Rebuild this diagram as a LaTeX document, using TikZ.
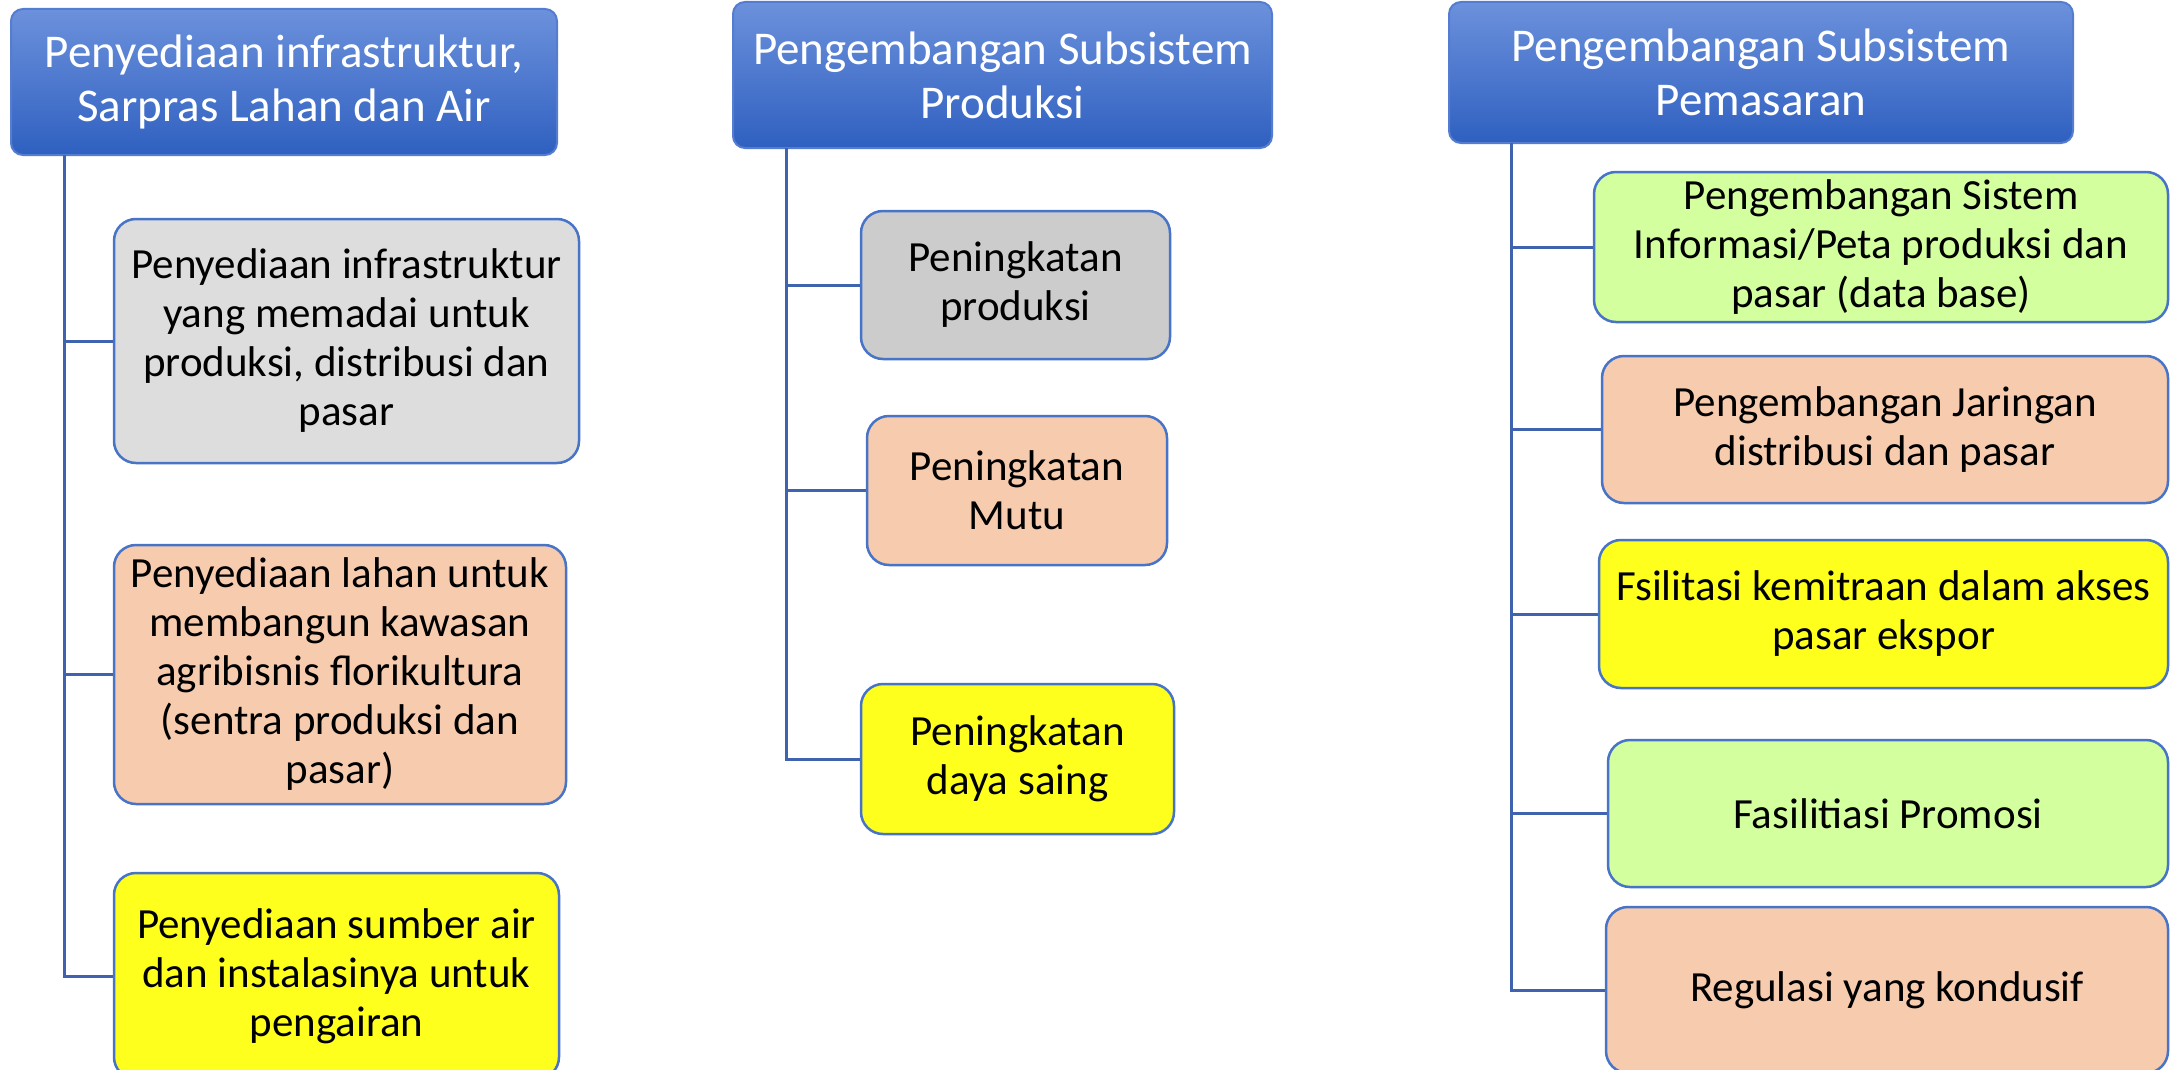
\documentclass[tikz,border=0pt]{standalone}
\usepackage{fontspec}
\setmainfont{Carlito}
\usetikzlibrary{calc}
\definecolor{hdtop}{RGB}{108,145,220}
\definecolor{hdbot}{RGB}{47,96,192}
\definecolor{hdline}{RGB}{84,124,208}
\definecolor{bxline}{RGB}{72,116,200}
\definecolor{conn}{RGB}{63,99,174}
\definecolor{cgray}{RGB}{221,221,221}
\definecolor{cgraytwo}{RGB}{204,204,204}
\definecolor{cpeach}{RGB}{247,203,174}
\definecolor{cyellow}{RGB}{255,255,30}
\definecolor{cgreen}{RGB}{211,255,158}
\begin{document}
\begin{tikzpicture}[x=1pt,y=-1pt,
  hdr/.style={draw=hdline, line width=2pt, rounded corners=12pt,
    top color=hdtop, bottom color=hdbot, text=white, align=center,
    font=\fontsize{47}{54}\selectfont, inner sep=0pt},
  sub/.style={draw=bxline, line width=2.5pt, rounded corners=22pt,
    align=center, font=\fontsize{43}{49}\selectfont, inner sep=0pt},
  link/.style={draw=conn, line width=3pt}]
\useasboundingbox (0,0) rectangle (2178,1070);
\clip (0,0) rectangle (2178,1070);
\fill[white] (0,0) rectangle (2178,1070);

% column 1
\node[hdr, minimum width=546pt, minimum height=146pt] (h1) at (284,82)
  {Penyediaan infrastruktur,\\Sarpras Lahan dan Air};
\node[sub, fill=cgray, minimum width=465pt, minimum height=244pt] (a1) at (346.5,341)
  {Penyediaan infrastruktur\\yang memadai untuk\\produksi, distribusi dan\\pasar};
\node[sub, fill=cpeach, minimum width=452pt, minimum height=259pt] (a2) at (340,674.5)
  {Penyediaan lahan untuk\\membangun kawasan\\agribisnis florikultura\\(sentra produksi dan\\pasar)};
\node[sub, fill=cyellow, minimum width=445pt, minimum height=206pt] (a3) at (336.5,976)
  {Penyediaan sumber air\\dan instalasinya untuk\\pengairan};
\coordinate (t1) at (64,155);
\draw[link] (t1) |- (a3.west);
\draw[link] (t1 |- a1.west) -- (a1.west);
\draw[link] (t1 |- a2.west) -- (a2.west);

% column 2
\node[hdr, minimum width=539pt, minimum height=146pt] (h2) at (1002.5,75)
  {Pengembangan Subsistem\\Produksi};
\node[sub, fill=cgraytwo, minimum width=309pt, minimum height=148pt] (b1) at (1015.5,285)
  {Peningkatan\\produksi};
\node[sub, fill=cpeach, minimum width=300pt, minimum height=149pt] (b2) at (1017,490.5)
  {Peningkatan\\Mutu};
\node[sub, fill=cyellow, minimum width=313pt, minimum height=150pt] (b3) at (1017.5,759)
  {Peningkatan\\daya saing};
\coordinate (t2) at (786,148);
\draw[link] (t2) |- (b3.west);
\draw[link] (t2 |- b1.west) -- (b1.west);
\draw[link] (t2 |- b2.west) -- (b2.west);

% column 3
\node[hdr, minimum width=624pt, minimum height=141pt] (h3) at (1761,72.5)
  {Pengembangan Subsistem\\Pemasaran};
\node[sub, fill=cgreen, minimum width=574pt, minimum height=150pt] (c1) at (1881,247)
  {Pengembangan Sistem\\Informasi/Peta produksi dan\\pasar (data base)};
\node[sub, fill=cpeach, minimum width=566pt, minimum height=147pt] (c2) at (1885,429.5)
  {Pengembangan Jaringan\\distribusi dan pasar};
\node[sub, fill=cyellow, minimum width=569pt, minimum height=148pt] (c3) at (1883.5,614)
  {Fsilitasi kemitraan dalam akses\\pasar ekspor};
\node[sub, fill=cgreen, minimum width=560pt, minimum height=147pt] (c4) at (1888,813.5)
  {Fasilitiasi Promosi};
\node[sub, fill=cpeach, minimum width=562pt, minimum height=166pt] (c5) at (1887,990)
  {Regulasi yang kondusif};
\coordinate (t3) at (1511,143);
\draw[link] (t3) |- (c5.west);
\draw[link] (t3 |- c1.west) -- (c1.west);
\draw[link] (t3 |- c2.west) -- (c2.west);
\draw[link] (t3 |- c3.west) -- (c3.west);
\draw[link] (t3 |- c4.west) -- (c4.west);
\end{tikzpicture}
\end{document}
